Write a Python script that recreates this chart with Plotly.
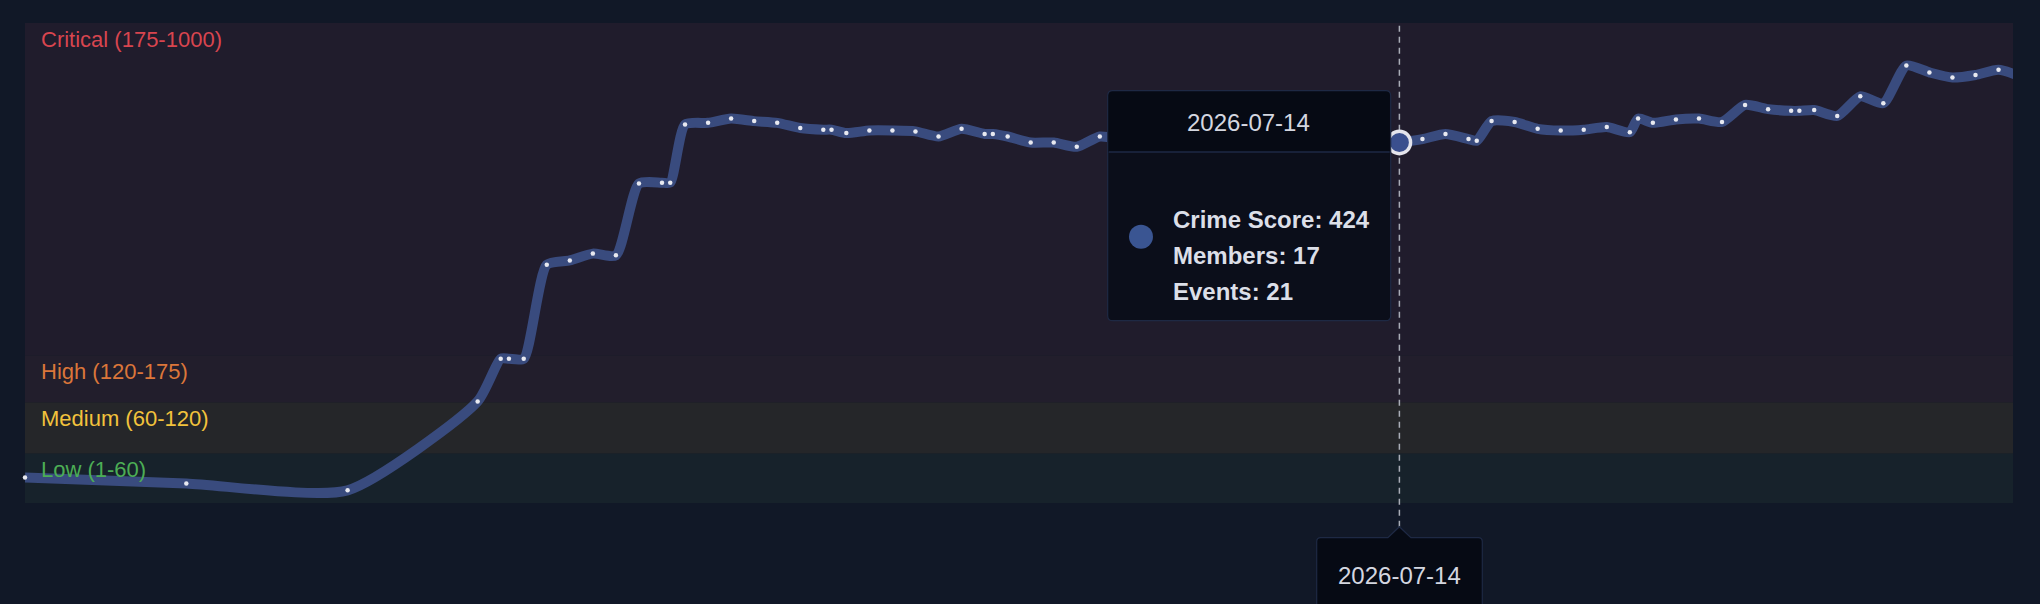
import plotly.graph_objects as go
import pandas as pd

# ---------------- data ----------------
dates = [
    "2024-03-31", "2024-07-07", "2024-10-13", "2024-12-31", "2025-01-14", "2025-01-19",
    "2025-01-28", "2025-02-11", "2025-02-25", "2025-03-11", "2025-03-25", "2025-04-08",
    "2025-04-22", "2025-04-27", "2025-05-06", "2025-05-20", "2025-06-03", "2025-06-17",
    "2025-07-01", "2025-07-15", "2025-07-29", "2025-08-03", "2025-08-12", "2025-08-26",
    "2025-09-09", "2025-09-23", "2025-10-07", "2025-10-21", "2025-11-04", "2025-11-09",
    "2025-11-18", "2025-12-02", "2025-12-16", "2025-12-30", "2026-01-13", "2026-01-27",
    "2026-02-10", "2026-02-15", "2026-02-24", "2026-03-10", "2026-03-24", "2026-04-07",
    "2026-04-21", "2026-05-05", "2026-05-19", "2026-05-24", "2026-06-02", "2026-06-16",
    "2026-06-30", "2026-07-14", "2026-07-28", "2026-08-11", "2026-08-25", "2026-08-30",
    "2026-09-08", "2026-09-22", "2026-10-06", "2026-10-20", "2026-11-03", "2026-11-17",
    "2026-12-01", "2026-12-06", "2026-12-15", "2026-12-29", "2027-01-12", "2027-01-26",
    "2027-02-09", "2027-02-23", "2027-03-09", "2027-03-14", "2027-03-23", "2027-04-06",
    "2027-04-20", "2027-05-04", "2027-05-18", "2027-06-01", "2027-06-15", "2027-06-29",
    "2027-07-13", "2027-07-27",
]
crime_score = [
    32, 25, 17, 121, 171, 171,
    171, 281, 286, 294, 292, 376,
    377, 377, 445, 447, 452, 449,
    447, 441, 439, 439, 435, 438,
    438, 437, 431, 440, 434, 434,
    431, 424, 424, 419, 431, 428,
    426, 426, 430, 433, 429, 427,
    431, 428, 425, 425, 429, 427,
    421, 424, 428, 434, 428, 426,
    449, 448, 440, 438, 439, 442,
    436, 452, 447, 451, 452, 448,
    468, 463, 461, 461, 462, 455,
    478, 470, 514, 506, 500, 503,
    509, 501,
]

hover_date = "2026-07-14"
hover_score = 424
hover_members = 17
hover_events = 21

band_names = ["Low (1-60)", "Medium (60-120)", "High (120-175)", "Critical (175-1000)"]
band_low = [1, 60, 120, 175]
band_high = [60, 120, 175, 1000]
band_fill = ["#17222b", "#252629", "#221e2c", "#201c2c"]
band_text = ["#4cae55", "#f2c23c", "#db763a", "#d8454f"]

x_range = ["2024-03-31", "2027-07-21 19:00"]
y_range = [2.2, 563.8]

# ---------------- layout constants ----------------
W, H = 2040, 604
M = dict(l=25, r=27, t=23, b=101)
PLOT_H = H - M["t"] - M["b"]
FONT = "Liberation Sans"
BG = "#111827"
LINE = "#394b7e"
TIP_BODY = "#0b0e1a"
TIP_HEAD = "#060a14"
TIP_BORDER = "#1e2944"
TIP_TEXT = "#dcdfe8"

fig = go.Figure()

# series line (clipped to plot area)
fig.add_trace(go.Scatter(
    x=dates, y=crime_score, mode="lines",
    line=dict(color=LINE, width=10, shape="spline", smoothing=0.6),
    hoverinfo="skip", showlegend=False,
))

# dots, only those inside the visible window
x0t, x1t = pd.Timestamp(x_range[0]), pd.Timestamp(x_range[1])
vis = [(d, v) for d, v in zip(dates, crime_score) if x0t <= pd.Timestamp(d) <= x1t]
fig.add_trace(go.Scatter(
    x=[d for d, _ in vis], y=[v for _, v in vis], mode="markers",
    marker=dict(color="#e8e9f0", size=4.5, line=dict(width=0)),
    cliponaxis=False, hoverinfo="skip", showlegend=False,
))

shapes = []
annotations = []

# risk bands
for name, lo, hi, fc, tc in zip(band_names, band_low, band_high, band_fill, band_text):
    y0 = max(lo, y_range[0])
    y1 = min(hi, y_range[1])
    shapes.append(dict(type="rect", xref="paper", yref="y", x0=0, x1=1, y0=y0, y1=y1,
                       fillcolor=fc, line=dict(width=0), layer="below"))
    annotations.append(dict(xref="paper", yref="y", x=0, y=y1, xanchor="left", yanchor="middle",
                            xshift=14, yshift=-16.3, text=name, showarrow=False,
                            font=dict(family=FONT, size=22, color=tc)))

# hovered-point helpers
frac = (pd.Timestamp(hover_date) - x0t) / (x1t - x0t)


def rrect(x0, y0, x1, y1, r):
    return (f"M{x0 + r},{y1} L{x1 - r},{y1} Q{x1},{y1} {x1},{y1 - r} L{x1},{y0 + r} "
            f"Q{x1},{y0} {x1 - r},{y0} L{x0 + r},{y0} Q{x0},{y0} {x0},{y0 + r} "
            f"L{x0},{y1 - r} Q{x0},{y1} {x0 + r},{y1} Z")


def top_rounded(x0, y0, x1, y1, r):
    return (f"M{x0},{y0} L{x0},{y1 - r} Q{x0},{y1} {x0 + r},{y1} L{x1 - r},{y1} "
            f"Q{x1},{y1} {x1},{y1 - r} L{x1},{y0} Z")


pix = dict(xref="x", yref="y", xsizemode="pixel", ysizemode="pixel",
           xanchor=hover_date, yanchor=hover_score, layer="above")

# axis pointer dashed line
shapes.append(dict(type="line", xref="paper", yref="paper", xsizemode="pixel", ysizemode="pixel",
                   xanchor=frac, yanchor=0, x0=0, x1=0, y0=-23.7, y1=PLOT_H,
                   line=dict(color="#a9adb7", width=1.5, dash="6px,5px"), layer="above"))

# hovered point
shapes.append(dict(type="circle", x0=-11.2, x1=11.2, y0=-11.2, y1=11.2,
                   fillcolor="#3a4f8e", line=dict(color="#e4e4ec", width=3.4), **pix))

# tooltip box
TL, TR, TT, TB, TS = -291.7, -8.7, 51.8, -178.2, -9.5
shapes.append(dict(type="path", path=rrect(TL, TB, TR, TT, 5),
                   fillcolor=TIP_BODY, line=dict(color=TIP_BORDER, width=1.2), **pix))
shapes.append(dict(type="path", path=top_rounded(TL + 1, TS, TR - 1, TT - 1, 4),
                   fillcolor=TIP_HEAD, line=dict(width=0), **pix))
shapes.append(dict(type="line", x0=TL + 1, x1=TR - 1, y0=TS, y1=TS,
                   line=dict(color=TIP_BORDER, width=1.5), **pix))
shapes.append(dict(type="circle", x0=-270.4, x1=-246.4, y0=-106.2, y1=-82.2,
                   fillcolor="#3a5592", line=dict(width=0), **pix))

annotations.append(dict(xref="x", yref="y", x=hover_date, y=hover_score, xanchor="center",
                        yanchor="middle", xshift=-151.1, yshift=20.2, text=hover_date,
                        showarrow=False, font=dict(family=FONT, size=24, color="#d4d7e0")))
rows = [f"Crime Score: {hover_score}", f"Members: {hover_members}", f"Events: {hover_events}"]
for i, row in enumerate(rows):
    annotations.append(dict(xref="x", yref="y", x=hover_date, y=hover_score, xanchor="left",
                            yanchor="middle", xshift=-228.6, yshift=-77.2 - 36 * i,
                            text=f"<b>{row}</b>", showarrow=False,
                            font=dict(family=FONT, size=24, color=TIP_TEXT)))

# axis-pointer label at the bottom
BL, BR, BT, BB, AP, AW = -82.7, 82.9, -34.7, -130, -23.7, 11.5
label_path = (f"M{BL},{BB} L{BL},{BT - 4} Q{BL},{BT} {BL + 4},{BT} L{-AW},{BT} L0,{AP} "
              f"L{AW},{BT} L{BR - 4},{BT} Q{BR},{BT} {BR},{BT - 4} L{BR},{BB} Z")
shapes.append(dict(type="path", xref="paper", yref="paper", xsizemode="pixel", ysizemode="pixel",
                   xanchor=frac, yanchor=0, path=label_path, fillcolor=TIP_HEAD,
                   line=dict(color=TIP_BORDER, width=1.2), layer="above"))
annotations.append(dict(xref="paper", yref="paper", x=frac, y=0, xanchor="center",
                        yanchor="middle", yshift=-72, text=hover_date, showarrow=False,
                        font=dict(family=FONT, size=24, color="#d4d7e0")))

fig.update_layout(
    width=W, height=H, margin=M,
    paper_bgcolor=BG, plot_bgcolor="rgba(0,0,0,0)",
    xaxis=dict(type="date", range=x_range, visible=False, fixedrange=True),
    yaxis=dict(range=y_range, visible=False, fixedrange=True),
    shapes=shapes, annotations=annotations,
    hovermode=False, showlegend=False,
    font=dict(family=FONT),
)

fig.write_html(
    "out.html",
    config={"displayModeBar": False},
    post_script=("document.body.style.margin='0';"
                 "document.body.style.overflow='hidden';"
                 "document.body.style.background='#111827';"),
)
